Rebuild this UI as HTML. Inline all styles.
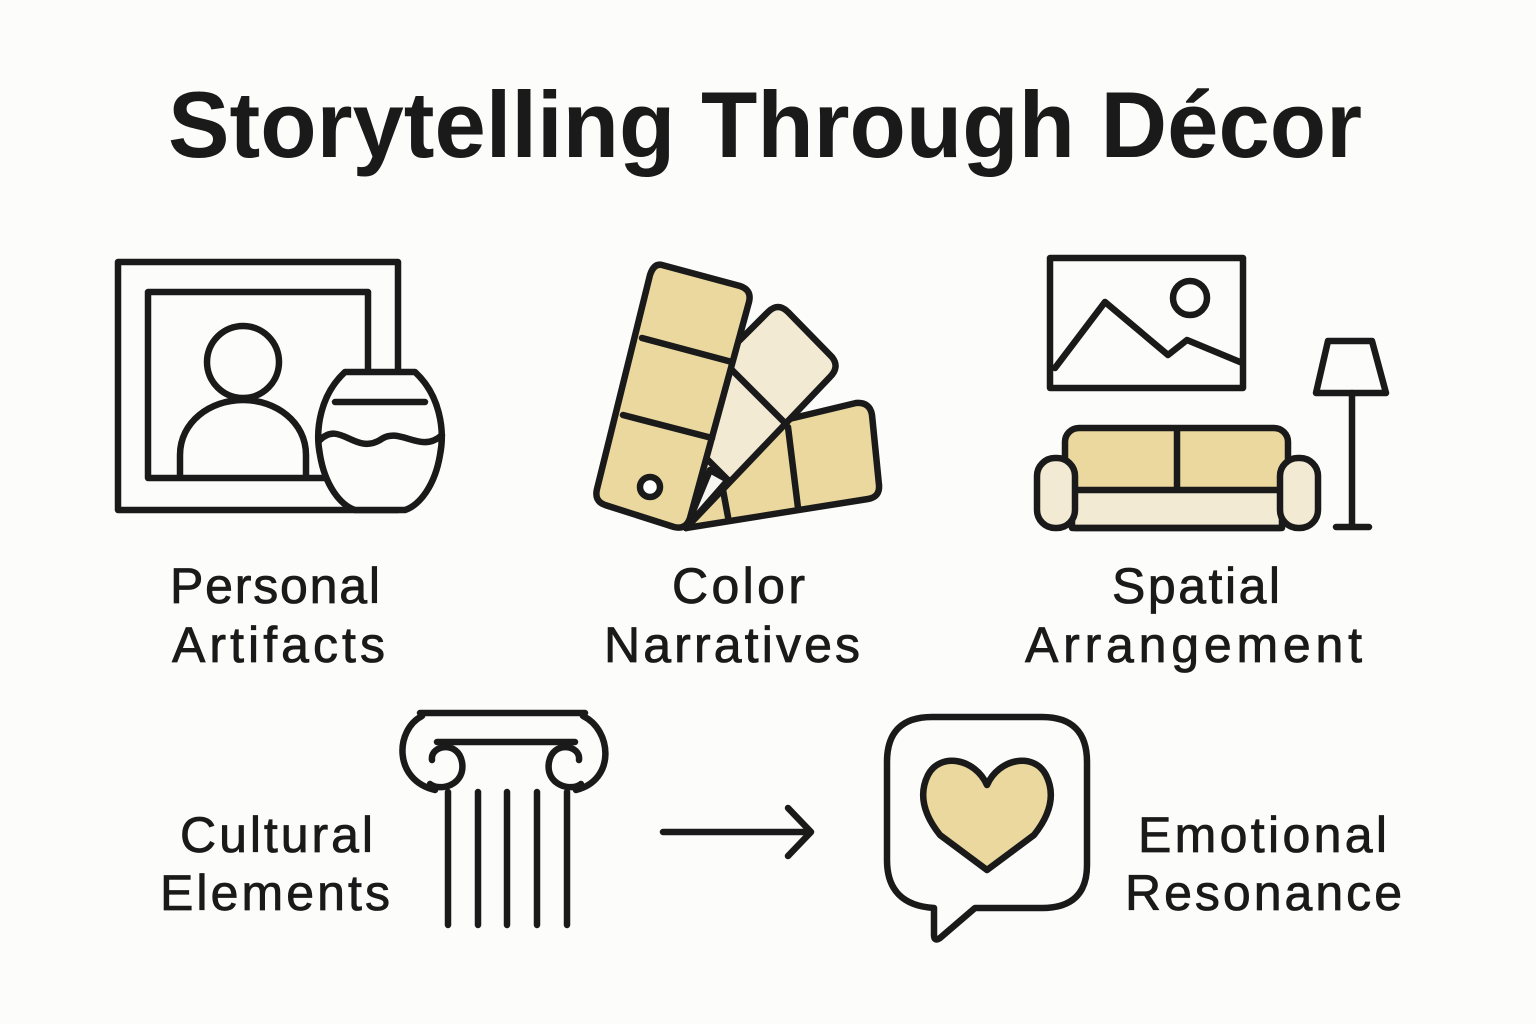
<!DOCTYPE html>
<html><head><meta charset="utf-8"><style>
html,body{margin:0;padding:0;background:#fcfcfa;}
svg{display:block}
text{font-family:"Liberation Sans",sans-serif;fill:#1a1a1a;}
</style></head><body>
<svg width="1536" height="1024" viewBox="0 0 1536 1024" xmlns="http://www.w3.org/2000/svg">
<rect width="1536" height="1024" fill="#fcfcfa"/>
<text x="168" y="157" font-size="94" font-weight="bold" textLength="1194" lengthAdjust="spacingAndGlyphs">Storytelling Through Décor</text>

<g fill="none" stroke="#1a1a1a" stroke-width="6.5" stroke-linejoin="round" stroke-linecap="round">
<rect x="118" y="262" width="280" height="248"/>
<rect x="148" y="292" width="220" height="186"/>
<circle cx="243" cy="362" r="36"/>
<path d="M180,476 V455 C180,422 210,400 243,400 C276,400 306,422 306,455 V476"/>
<path d="M345,372 H415 C440,395 445,430 440,455 C435,485 420,505 405,510 H355 C340,505 325,485 320,455 C315,430 320,395 345,372 Z" fill="#fcfcfa"/>
<path d="M335,402 H425" />
<path d="M320,440 C340,420 355,455 380,440 C400,425 420,455 442,435"/>

<path d="M785,420 L856,403 Q870,402 872,415 L879,485 Q880,497 868,499 L686,528 Z" fill="#ead89f"/>
<path d="M788,427 L798,508 M723,490 L728,517"/>
<path d="M735,345 L768,312 Q778,302 788,312 L832,357 Q840,367 830,377 L686,528 Z" fill="#f3ead3"/>
<path d="M730,368 L785,423 M708,460 L728,480"/>
<path d="M710,470 L686,528 L728,480 Z" fill="#f8f6f0"/>
<path d="M662,265 L740,286 Q752,290 749,302 L690,518 Q686,530 674,527 L605,505 Q594,501 597,489 L650,275 Q654,263 662,265 Z" fill="#ead89f"/>
<path d="M642,338 L732,362 M623,415 L712,438"/>
<circle cx="650" cy="487" r="10" fill="#fff"/>

<rect x="1050" y="258" width="193" height="130"/>
<path d="M1055,368 L1105,302 L1168,355 L1187,340 L1240,362"/>
<circle cx="1190" cy="298" r="17"/>
<path d="M1328,341 H1372 L1386,393 H1316 Z"/>
<path d="M1352,393 V525 M1336,527 H1369"/>
<rect x="1065" y="428" width="223" height="66" rx="14" fill="#ead89f"/>
<path d="M1177,430 V492"/>
<rect x="1072" y="490" width="210" height="38" fill="#f3ead3"/>
<rect x="1037" y="458" width="38" height="70" rx="18" fill="#f3ead3"/>
<rect x="1280" y="458" width="38" height="70" rx="18" fill="#f3ead3"/>
<path d="M1075,528 H1280"/>

<path d="M420,713 H585"/>
<path d="M422,716 C395,730 393,780 435,790 M583,716 C612,730 616,780 576,790"/>
<path d="M437,742 H575"/>
<path d="M432,760 C430,745 458,740 462,762 C466,785 440,792 430,784"/>
<path d="M579,760 C581,745 553,740 549,762 C545,785 571,792 581,784"/>
<path d="M448,792 V925 M478,792 V925 M507,792 V925 M537,792 V925 M567,792 V925"/>

<path d="M663,832 H810 M788,808 L811,832 L788,856"/>

<path d="M932,717 H1042 Q1087,717 1087,762 V865 Q1087,908 1042,908 H975 L940,938 Q934,942 934,935 V908 Q887,905 887,860 V762 Q887,717 932,717 Z"/>
<path d="M987,785 C975,758 940,752 928,775 C918,795 924,815 940,835 L987,870 L1034,835 C1050,815 1056,795 1046,775 C1034,752 999,758 987,785 Z" fill="#ead89f"/>
</g>

<g font-size="50" stroke="#1a1a1a" stroke-width="0.8" lengthAdjust="spacingAndGlyphs">
<text x="170" y="603" textLength="210">Personal</text>
<text x="172" y="662" textLength="213">Artifacts</text>
<text x="672" y="603" textLength="133">Color</text>
<text x="604" y="662" textLength="256">Narratives</text>
<text x="1112" y="603" textLength="168">Spatial</text>
<text x="1025" y="662" textLength="337">Arrangement</text>
<text x="180" y="852" textLength="193">Cultural</text>
<text x="160" y="910" textLength="230">Elements</text>
<text x="1138" y="852" textLength="249">Emotional</text>
<text x="1125" y="910" textLength="277">Resonance</text>
</g>
</svg>
</body></html>
